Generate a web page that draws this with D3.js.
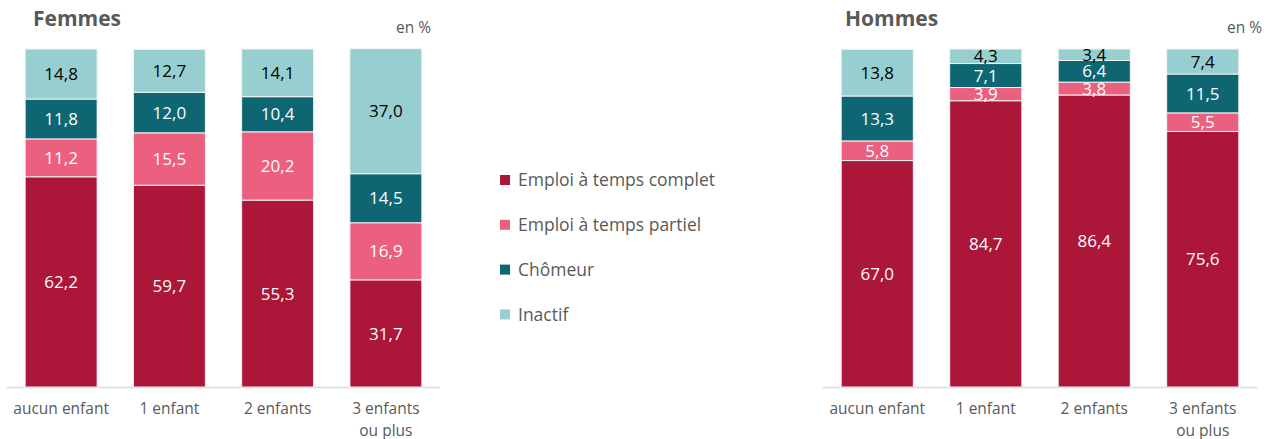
<!DOCTYPE html>
<html>
<head>
<meta charset="utf-8">
<script src="https://cdn.jsdelivr.net/npm/d3@7"></script>
<style>
  body { margin: 0; background: #fff; }
  svg { font-family: "Open Sans", sans-serif; }
</style>
</head>
<body>
<div id="chart"></div>
<script>
// categories and series
const categories = ['aucun enfant', '1 enfant', '2 enfants', '3 enfants\nou plus']
const seriesNames = ['Emploi à temps complet', 'Emploi à temps partiel', 'Chômeur', 'Inactif']
const colors = ['#ac1639', '#eb607f', '#0e6673', '#97cfd0']
const labelColors = ['#fff', '#fff', '#fff', '#000']

// Femmes
const femmesComplet = [62.2, 59.7, 55.3, 31.7]
const femmesPartiel = [11.2, 15.5, 20.2, 16.9]
const femmesChomeur = [11.8, 12.0, 10.4, 14.5]
const femmesInactif = [14.8, 12.7, 14.1, 37.0]

// Hommes
const hommesComplet = [67.0, 84.7, 86.4, 75.6]
const hommesPartiel = [5.8, 3.9, 3.8, 5.5]
const hommesChomeur = [13.3, 7.1, 6.4, 11.5]
const hommesInactif = [13.8, 4.3, 3.4, 7.4]

const width = 1272
const height = 439

const svg = d3.select('#chart').append('svg')
    .attr('width', width)
    .attr('height', height)

const y = d3.scaleLinear().domain([0, 100]).range([387, 49])
const fmt = v => d3.format('.1f')(v).replace('.', ',')

function panel(title, series, x0, x1, titleX, unitX) {
    const g = svg.append('g')
    const x = d3.scaleBand()
        .domain(categories)
        .range([x0, x1])
        .paddingInner(0.335)
        .paddingOuter(0.1675)

    const rows = categories.map((c, i) => {
        const r = { cat: c }
        seriesNames.forEach((s, j) => { r[s] = series[j][i] })
        return r
    })
    const stacked = d3.stack().keys(seriesNames)(rows)

    // axis line
    g.append('line')
        .attr('x1', x0).attr('x2', x1)
        .attr('y1', y(0) + 0.5).attr('y2', y(0) + 0.5)
        .attr('stroke', '#d9d9d9')
        .attr('stroke-width', 1.5)

    const layer = g.selectAll('g.layer')
        .data(stacked)
        .join('g')
        .attr('class', 'layer')

    layer.selectAll('rect')
        .data(d => d.map(o => ({ o, k: d.index })))
        .join('rect')
        .attr('x', d => x(d.o.data.cat))
        .attr('y', d => y(d.o[1]))
        .attr('width', x.bandwidth())
        .attr('height', d => y(d.o[0]) - y(d.o[1]))
        .attr('fill', d => colors[d.k])
        .attr('stroke', '#f4f4f4')
        .attr('stroke-width', 1)

    layer.selectAll('text')
        .data(d => d.map(o => ({ o, k: d.index })))
        .join('text')
        .attr('x', d => x(d.o.data.cat) + x.bandwidth() / 2)
        .attr('y', d => (y(d.o[0]) + y(d.o[1])) / 2)
        .attr('dy', '0.36em')
        .attr('text-anchor', 'middle')
        .attr('font-size', 17)
        .attr('fill', d => labelColors[d.k])
        .text(d => fmt(d.o[1] - d.o[0]))

    // category labels
    const lab = g.append('g')
        .selectAll('text')
        .data(categories)
        .join('text')
        .attr('x', d => x(d) + x.bandwidth() / 2)
        .attr('y', 414)
        .attr('text-anchor', 'middle')
        .attr('font-size', 15.5)
        .attr('fill', '#595959')
    lab.selectAll('tspan')
        .data(d => d.split('\n'))
        .join('tspan')
        .attr('x', function () { return d3.select(this.parentNode).attr('x') })
        .attr('dy', (d, i) => i ? 22 : 0)
        .text(d => d)

    g.append('text')
        .attr('x', titleX)
        .attr('y', 26)
        .attr('font-size', 21)
        .attr('font-weight', 'bold')
        .attr('fill', '#595959')
        .text(title)

    g.append('text')
        .attr('x', unitX)
        .attr('y', 33)
        .attr('text-anchor', 'end')
        .attr('font-size', 15.5)
        .attr('fill', '#595959')
        .text('en %')
}

panel('Femmes', [femmesComplet, femmesPartiel, femmesChomeur, femmesInactif], 7, 440, 33, 431)
panel('Hommes', [hommesComplet, hommesPartiel, hommesChomeur, hommesInactif], 823, 1257, 845, 1262)

// legend
const legend = svg.append('g')
    .selectAll('g')
    .data(seriesNames)
    .join('g')
    .attr('transform', (d, i) => `translate(500, ${180 + i * 44.8})`)
legend.append('rect')
    .attr('x', 0).attr('y', -5)
    .attr('width', 10).attr('height', 10)
    .attr('fill', (d, i) => colors[i])
legend.append('text')
    .attr('x', 18)
    .attr('dy', '0.36em')
    .attr('font-size', 17.5)
    .attr('fill', '#595959')
    .text(d => d)
</script>
</body>
</html>
